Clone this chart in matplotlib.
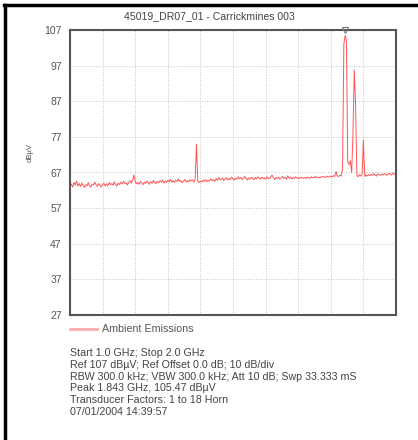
import numpy as np
import matplotlib
matplotlib.use("Agg")
import matplotlib.pyplot as plt
from matplotlib.lines import Line2D

plt.rcParams['font.family'] = ['Liberation Sans', 'DejaVu Sans']

# Sweep settings
start_ghz = 1.0
stop_ghz = 2.0
n_points = 251

# Trace level in dBuV (one row = 40 MHz)
level_dbuv = [
    63.0, 63.8, 62.9, 64.2, 63.5, 64.6, 63.2, 63.9, 63.1, 64.0,
    63.4, 62.8, 63.6, 63.2, 64.1, 63.3, 62.9, 63.7, 63.5, 64.3,
    63.6, 63.1, 63.9, 63.4, 62.9, 63.5, 64.0, 63.2, 63.8, 63.3,
    64.2, 63.6, 63.9, 63.4, 64.4, 63.7, 63.2, 64.0, 63.6, 64.3,
    63.8, 64.5, 63.9, 64.1, 63.5, 64.2, 64.7, 64.0, 64.9, 66.3,
    64.6, 63.8, 64.2, 63.7, 64.5, 64.0, 63.6, 64.3, 63.9, 64.6,
    64.1, 63.7, 64.4, 64.0, 64.8, 64.2, 63.9, 64.5, 64.1, 64.7,
    64.3, 64.9, 64.0, 64.6, 64.2, 64.8, 64.4, 65.1, 64.3, 64.7,
    64.2, 64.9, 64.5, 65.2, 64.4, 64.8, 64.1, 64.6, 65.0, 64.3,
    64.7, 64.4, 65.0, 64.6, 64.9, 64.3, 65.1, 75.0, 64.5, 64.2,
    64.6, 64.3, 64.9, 64.5, 65.0, 64.4, 64.8, 64.6, 65.2, 64.7,
    65.0, 64.5, 65.3, 64.8, 65.6, 64.9, 65.1, 65.4, 64.8, 65.2,
    65.5, 64.9, 65.3, 65.0, 65.7, 65.2, 64.9, 65.4, 65.1, 65.8,
    65.2, 65.6, 65.0, 65.4, 65.9, 65.3, 64.9, 65.5, 65.1, 65.7,
    65.3, 65.0, 65.6, 65.2, 65.8, 65.4, 65.1, 65.7, 65.3, 65.5,
    65.1, 65.8, 65.4, 65.2, 65.9, 66.2, 65.5, 65.0, 65.6, 65.3,
    65.7, 65.2, 65.5, 65.9, 65.3, 65.6, 65.1, 66.1, 65.4, 65.7,
    65.2, 65.5, 65.3, 65.8, 65.4, 65.6, 65.2, 65.7, 65.5, 65.4,
    65.6, 65.3, 65.7, 65.5, 65.4, 65.8, 65.6, 65.5, 65.9, 65.6,
    65.7, 65.5, 65.8, 65.6, 65.9, 65.7, 65.6, 66.0, 65.8, 65.7,
    66.0, 65.8, 66.1, 65.9, 67.3, 66.0, 65.9, 66.2, 66.0, 68.0,
    103.0, 105.5, 104.0, 70.0, 69.2, 70.3, 67.0, 78.0, 95.8, 86.0,
    66.2, 65.8, 66.4, 66.0, 66.5, 76.0, 65.9, 66.3, 66.0, 66.4,
    66.1, 66.5, 66.2, 66.7, 66.3, 66.0, 66.6, 66.4, 66.2, 66.5,
    66.3, 66.7, 66.4, 66.2, 66.6, 66.8, 66.3, 66.5, 66.9, 66.4,
    66.6,
]

ref_level = 107
y_ticks = [27, 37, 47, 57, 67, 77, 87, 97, 107]
peak_ghz = 1.843

title = "45019_DR07_01 - Carrickmines 003"
legend_label = "Ambient Emissions"
info_lines = [
    "Start 1.0 GHz; Stop 2.0 GHz",
    "Ref 107 dB\u00b5V; Ref Offset 0.0 dB; 10 dB/div",
    "RBW 300.0 kHz; VBW 300.0 kHz; Att 10 dB; Swp 33.333 mS",
    "Peak 1.843 GHz, 105.47 dB\u00b5V",
    "Transducer Factors: 1 to 18 Horn",
    "07/01/2004 14:39:57",
]

freq_ghz = np.linspace(start_ghz, stop_ghz, n_points)

W, H = 418, 440
fig = plt.figure(figsize=(W / 100, H / 100), dpi=100)
ax = fig.add_axes([70 / W, 1 - 315 / H, 326 / W, 285 / H])

ax.plot(freq_ghz, level_dbuv, color="#ff2a2a", lw=0.7, alpha=0.8)
ax.plot([peak_ghz], [ref_level], marker="v", ms=5, mfc="none",
        mec="#777777", mew=0.8, clip_on=False, zorder=5)

ax.set_xlim(start_ghz, stop_ghz)
ax.set_ylim(y_ticks[0], y_ticks[-1])
ax.set_xticks(np.arange(start_ghz, stop_ghz + 0.001, 0.1))
ax.set_xticklabels([])
ax.set_yticks(y_ticks)
ax.tick_params(length=0, labelsize=7.5, labelcolor="#555555", pad=6)
ax.grid(True, ls=":", color="#c4c4c4", lw=0.7)
for s in ax.spines.values():
    s.set_color("#555555")
    s.set_linewidth(1.5)

fig.text(209 / W, 1 - 16 / H, title, ha="center", va="center",
         fontsize=7.6, color="#444444")
fig.text(30 / W, 1 - 152 / H, "dB\u00b5V", rotation=90, ha="center",
         va="center", fontsize=5.5, color="#555555")

# legend sample and info text
fig.add_artist(Line2D([70 / W, 97 / W], [1 - 329 / H, 1 - 329 / H],
                      color="#ffaaaa", lw=2))
fig.text(102 / W, 1 - 329 / H, legend_label, ha="left", va="center",
         fontsize=7.7, color="#555555")
for i, line in enumerate(info_lines):
    fig.text(70 / W, 1 - (353 + i * 11.8) / H, line, ha="left",
             va="center", fontsize=7.7, color="#444444")

# black frame on top and left
fig.add_artist(Line2D([4 / W, 1], [1 - 5 / H, 1 - 5 / H], color="black", lw=2.5))
fig.add_artist(Line2D([5 / W, 5 / W], [0, 1 - 5 / H], color="black", lw=2.5))

fig.savefig("out.png", dpi=100)
